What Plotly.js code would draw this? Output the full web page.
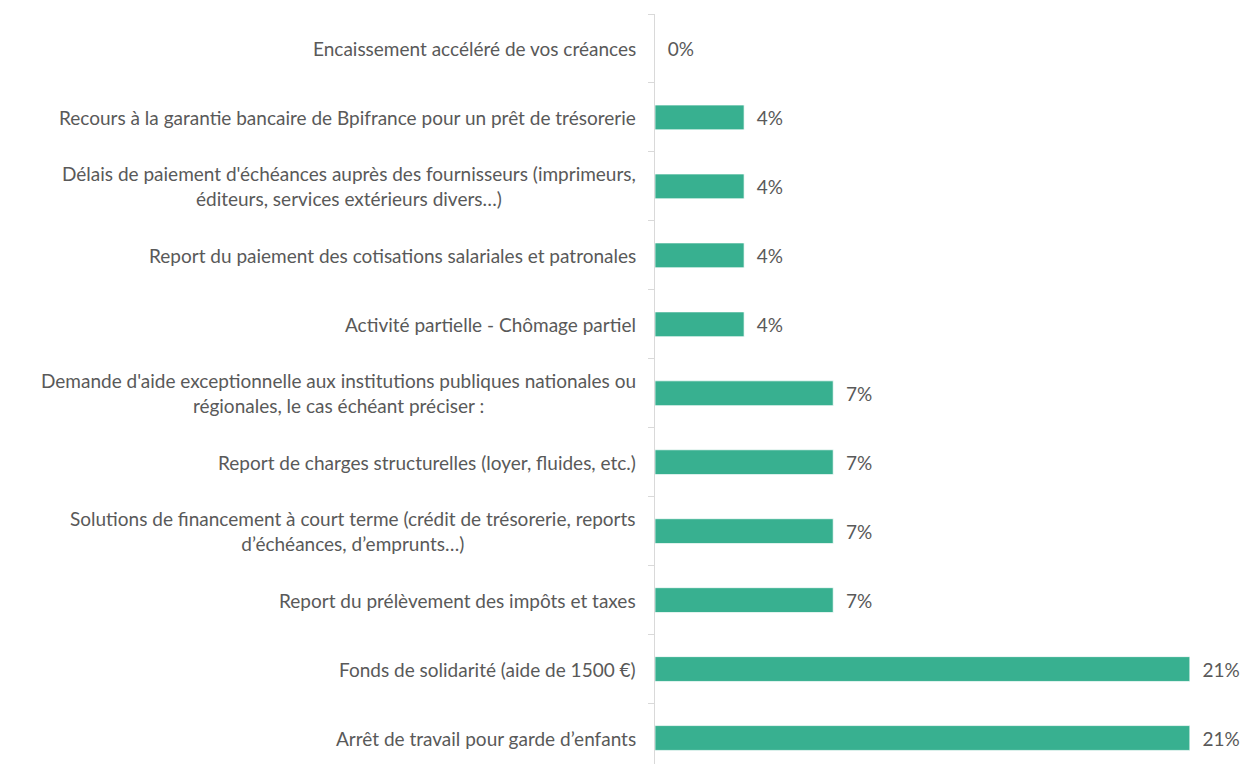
<!DOCTYPE html>
<html>
<head>
<meta charset="utf-8">
<script src="https://cdn.plot.ly/plotly-3.0.1.min.js"></script>
<style>
html,body{margin:0;padding:0;background:#fff;}
#chart{width:1245px;height:764px;}
</style>
</head>
<body>
<div id="chart"></div>
<script>
const categories = [
  "Encaissement accéléré de vos créances",
  "Recours à la garantie bancaire de Bpifrance pour un prêt de trésorerie",
  "Délais de paiement d'échéances auprès des fournisseurs (imprimeurs,<br>éditeurs, services extérieurs divers…)",
  "Report du paiement des cotisations salariales et patronales",
  "Activité partielle - Chômage partiel",
  "Demande d'aide exceptionnelle aux institutions publiques nationales ou<br>régionales, le cas échéant préciser :",
  "Report de charges structurelles (loyer, fluides, etc.)",
  "Solutions de financement à court terme (crédit de trésorerie, reports<br>d’échéances, d’emprunts…)",
  "Report du prélèvement des impôts et taxes",
  "Fonds de solidarité (aide de 1500 €)",
  "Arrêt de travail pour garde d’enfants"
];
const values = [0, 3.57, 3.57, 3.57, 3.57, 7.14, 7.14, 7.14, 7.14, 21.43, 21.43];
const valueLabels = ["0%", "4%", "4%", "4%", "4%", "7%", "7%", "7%", "7%", "21%", "21%"];

const textColor = "#595959";
const font = "Lato, 'Open Sans', sans-serif";

const trace = {
  type: "bar",
  orientation: "h",
  y: categories.map((c, i) => i),
  x: values,
  width: 0.36,
  marker: {color: "#38b090", line: {color: "rgba(255,255,255,0.7)", width: 1}},
  text: valueLabels.map(t => "\u00a0\u00a0" + t),
  textposition: "outside",
  cliponaxis: false,
  textfont: {family: font, size: 19, color: textColor},
  hoverinfo: "none"
};

const annotations = categories.map((c, i) => ({
  xref: "paper", yref: "y",
  x: 0, y: i,
  xanchor: "right", yanchor: "middle",
  xshift: -17,
  align: "center",
  text: c,
  showarrow: false,
  font: {family: font, size: 19, color: textColor}
}));

const layout = {
  width: 1245, height: 764,
  margin: {l: 655, r: 1, t: 13.5, b: 0},
  paper_bgcolor: "#fff", plot_bgcolor: "#fff",
  showlegend: false,
  xaxis: {range: [0, 23.6], visible: false, fixedrange: true},
  yaxis: {
    type: "linear",
    range: [10.377, -0.5],
    tickmode: "array",
    tickvals: categories.map((c, i) => i - 0.5).concat([categories.length - 0.5]),
    ticks: "outside", ticklen: 6, tickcolor: "#d9d9d9", tickwidth: 1,
    showticklabels: false,
    showgrid: false, zeroline: false,
    showline: true, linecolor: "#d9d9d9", linewidth: 1,
    fixedrange: true
  },
  annotations: annotations
};

Plotly.newPlot("chart", [trace], layout, {displayModeBar: false, staticPlot: true});
</script>
</body>
</html>
